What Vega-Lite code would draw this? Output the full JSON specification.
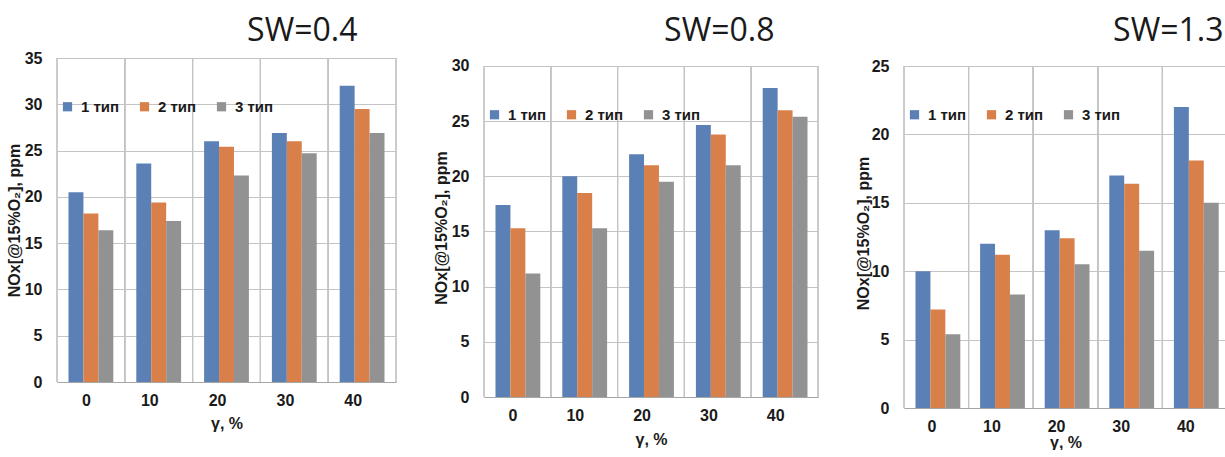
{
  "$schema": "https://vega.github.io/schema/vega-lite/v6.json",
  "padding": {"left": 6, "top": 14, "right": 0, "bottom": 0},
  "spacing": 36,
  "align": "none",
  "data": {"values": [
    {"sw": "0.4", "g": "0", "t": "1 тип", "v": 20.5},
    {"sw": "0.4", "g": "0", "t": "2 тип", "v": 18.2},
    {"sw": "0.4", "g": "0", "t": "3 тип", "v": 16.4},
    {"sw": "0.4", "g": "10", "t": "1 тип", "v": 23.6},
    {"sw": "0.4", "g": "10", "t": "2 тип", "v": 19.4},
    {"sw": "0.4", "g": "10", "t": "3 тип", "v": 17.4},
    {"sw": "0.4", "g": "20", "t": "1 тип", "v": 26.0},
    {"sw": "0.4", "g": "20", "t": "2 тип", "v": 25.4},
    {"sw": "0.4", "g": "20", "t": "3 тип", "v": 22.3},
    {"sw": "0.4", "g": "30", "t": "1 тип", "v": 26.9},
    {"sw": "0.4", "g": "30", "t": "2 тип", "v": 26.0},
    {"sw": "0.4", "g": "30", "t": "3 тип", "v": 24.7},
    {"sw": "0.4", "g": "40", "t": "1 тип", "v": 32.0},
    {"sw": "0.4", "g": "40", "t": "2 тип", "v": 29.5},
    {"sw": "0.4", "g": "40", "t": "3 тип", "v": 26.9},
    {"sw": "0.8", "g": "0", "t": "1 тип", "v": 17.4},
    {"sw": "0.8", "g": "0", "t": "2 тип", "v": 15.3},
    {"sw": "0.8", "g": "0", "t": "3 тип", "v": 11.2},
    {"sw": "0.8", "g": "10", "t": "1 тип", "v": 20.0},
    {"sw": "0.8", "g": "10", "t": "2 тип", "v": 18.5},
    {"sw": "0.8", "g": "10", "t": "3 тип", "v": 15.3},
    {"sw": "0.8", "g": "20", "t": "1 тип", "v": 22.0},
    {"sw": "0.8", "g": "20", "t": "2 тип", "v": 21.0},
    {"sw": "0.8", "g": "20", "t": "3 тип", "v": 19.5},
    {"sw": "0.8", "g": "30", "t": "1 тип", "v": 24.65},
    {"sw": "0.8", "g": "30", "t": "2 тип", "v": 23.8},
    {"sw": "0.8", "g": "30", "t": "3 тип", "v": 21.0},
    {"sw": "0.8", "g": "40", "t": "1 тип", "v": 28.0},
    {"sw": "0.8", "g": "40", "t": "2 тип", "v": 26.0},
    {"sw": "0.8", "g": "40", "t": "3 тип", "v": 25.4},
    {"sw": "1.3", "g": "0", "t": "1 тип", "v": 10.0},
    {"sw": "1.3", "g": "0", "t": "2 тип", "v": 7.2},
    {"sw": "1.3", "g": "0", "t": "3 тип", "v": 5.4},
    {"sw": "1.3", "g": "10", "t": "1 тип", "v": 12.0},
    {"sw": "1.3", "g": "10", "t": "2 тип", "v": 11.2},
    {"sw": "1.3", "g": "10", "t": "3 тип", "v": 8.3},
    {"sw": "1.3", "g": "20", "t": "1 тип", "v": 13.0},
    {"sw": "1.3", "g": "20", "t": "2 тип", "v": 12.4},
    {"sw": "1.3", "g": "20", "t": "3 тип", "v": 10.5},
    {"sw": "1.3", "g": "30", "t": "1 тип", "v": 17.0},
    {"sw": "1.3", "g": "30", "t": "2 тип", "v": 16.4},
    {"sw": "1.3", "g": "30", "t": "3 тип", "v": 11.5},
    {"sw": "1.3", "g": "40", "t": "1 тип", "v": 22.0},
    {"sw": "1.3", "g": "40", "t": "2 тип", "v": 18.1},
    {"sw": "1.3", "g": "40", "t": "3 тип", "v": 15.0}
  ]},
  "resolve": {"scale": {"color": "independent", "x": "independent", "y": "independent"}, "legend": {"color": "independent"}},
  "hconcat": [
    {
      "width": 339, "height": 324,
      "title": {"text": "SW=0.4", "anchor": "end", "dx": -39, "offset": 2},
      "transform": [{"filter": "datum.sw == '0.4'"}],
      "layer": [
        {"mark": {"type": "rule", "color": "#c4c4c4", "strokeWidth": 1},
         "encoding": {"x": {"field": "g", "type": "ordinal", "bandPosition": 0, "sort": ["0","10","20","30","40"]},
                      "y": {"datum": 0, "type": "quantitative"}, "y2": {"datum": 35}}},
        {"mark": {"type": "rule", "color": "#c4c4c4", "strokeWidth": 1},
         "encoding": {"x": {"field": "g", "type": "ordinal", "bandPosition": 1, "sort": ["0","10","20","30","40"]},
                      "y": {"datum": 0, "type": "quantitative"}, "y2": {"datum": 35}}},
        {"mark": {"type": "bar"},
         "encoding": {
           "x": {"field": "g", "type": "ordinal", "sort": ["0","10","20","30","40"], "scale": {"paddingInner": 0, "paddingOuter": 0},
                 "axis": {"title": "γ, %", "labelAngle": 0, "labelPadding": 18, "titlePadding": 7}},
           "xOffset": {"field": "t", "type": "nominal", "scale": {"paddingOuter": 0.77, "paddingInner": 0}},
           "y": {"field": "v", "type": "quantitative", "scale": {"domain": [0, 35], "nice": false},
                 "axis": {"title": "NOx[@15%O₂], ppm", "values": [0,5,10,15,20,25,30,35], "titlePadding": 2}},
           "color": {"field": "t", "type": "nominal",
                     "scale": {"domain": ["1 тип","2 тип","3 тип"], "range": ["#5b80b6","#d9804a","#929292"]},
                     "legend": {"orient": "none", "legendX": 3, "legendY": 41}}
         }}
      ]
    },
    {
      "width": 334, "height": 339,
      "title": {"text": "SW=0.8", "anchor": "end", "dx": -44, "offset": 10},
      "transform": [{"filter": "datum.sw == '0.8'"}],
      "layer": [
        {"mark": {"type": "rule", "color": "#c4c4c4", "strokeWidth": 1},
         "encoding": {"x": {"field": "g", "type": "ordinal", "bandPosition": 0, "sort": ["0","10","20","30","40"]},
                      "y": {"datum": 0, "type": "quantitative"}, "y2": {"datum": 30}}},
        {"mark": {"type": "rule", "color": "#c4c4c4", "strokeWidth": 1},
         "encoding": {"x": {"field": "g", "type": "ordinal", "bandPosition": 1, "sort": ["0","10","20","30","40"]},
                      "y": {"datum": 0, "type": "quantitative"}, "y2": {"datum": 30}}},
        {"mark": {"type": "bar"},
         "encoding": {
           "x": {"field": "g", "type": "ordinal", "sort": ["0","10","20","30","40"], "scale": {"paddingInner": 0, "paddingOuter": 0},
                 "axis": {"title": "γ, %", "labelAngle": 0, "labelPadding": 18, "titlePadding": 8}},
           "xOffset": {"field": "t", "type": "nominal", "scale": {"paddingOuter": 0.77, "paddingInner": 0}},
           "y": {"field": "v", "type": "quantitative", "scale": {"domain": [0, 30.725], "nice": false},
                 "axis": {"title": "NOx[@15%O₂], ppm", "values": [0,5,10,15,20,25,30], "titlePadding": 2}},
           "color": {"field": "t", "type": "nominal",
                     "scale": {"domain": ["1 тип","2 тип","3 тип"], "range": ["#5b80b6","#d9804a","#929292"]},
                     "legend": {"orient": "none", "legendX": 3, "legendY": 49}}
         }}
      ]
    },
    {
      "width": 323, "height": 350,
      "title": {"text": "SW=1.3", "anchor": "end", "dx": -4, "offset": 10},
      "transform": [{"filter": "datum.sw == '1.3'"}],
      "layer": [
        {"mark": {"type": "rule", "color": "#c4c4c4", "strokeWidth": 1},
         "encoding": {"x": {"field": "g", "type": "ordinal", "bandPosition": 0, "sort": ["0","10","20","30","40"]},
                      "y": {"datum": 0, "type": "quantitative"}, "y2": {"datum": 25}}},
        {"mark": {"type": "rule", "color": "#c4c4c4", "strokeWidth": 1},
         "encoding": {"x": {"field": "g", "type": "ordinal", "bandPosition": 1, "sort": ["0","10","20","30","40"]},
                      "y": {"datum": 0, "type": "quantitative"}, "y2": {"datum": 25}}},
        {"mark": {"type": "bar"},
         "encoding": {
           "x": {"field": "g", "type": "ordinal", "sort": ["0","10","20","30","40"], "scale": {"paddingInner": 0, "paddingOuter": 0},
                 "axis": {"title": "γ, %", "labelAngle": 0, "labelPadding": 18, "titlePadding": 0}},
           "xOffset": {"field": "t", "type": "nominal", "scale": {"paddingOuter": 0.77, "paddingInner": 0}},
           "y": {"field": "v", "type": "quantitative", "scale": {"domain": [0, 25.585], "nice": false},
                 "axis": {"title": "NOx[@15%O₂], ppm", "values": [0,5,10,15,20,25], "titlePadding": 0}},
           "color": {"field": "t", "type": "nominal",
                     "scale": {"domain": ["1 тип","2 тип","3 тип"], "range": ["#5b80b6","#d9804a","#929292"]},
                     "legend": {"orient": "none", "legendX": 3, "legendY": 49}}
         }}
      ]
    }
  ],
  "config": {
    "background": "white",
    "view": {"stroke": null},
    "title": {"font": "Open Sans", "fontSize": 32, "fontWeight": "normal", "color": "#1a1a1a"},
    "axis": {"labelFont": "Liberation Sans", "labelFontWeight": "bold", "labelFontSize": 16, "labelColor": "#1a1a1a",
             "titleFont": "Liberation Sans", "titleFontWeight": "bold", "titleFontSize": 16, "titleColor": "#1a1a1a",
             "ticks": false},
    "axisY": {"grid": true, "gridColor": "#c4c4c4", "domain": false, "labelPadding": 15},
    "axisX": {"grid": false, "domain": true, "domainColor": "#a6a6a6"},
    "legend": {"direction": "horizontal", "title": null, "symbolType": "square", "symbolSize": 85, "symbolStrokeWidth": 0,
               "labelFont": "Liberation Sans", "labelFontWeight": "bold", "labelFontSize": 15, "labelColor": "#1a1a1a",
               "labelOffset": 6, "columnPadding": 17, "padding": 0}
  }
}
